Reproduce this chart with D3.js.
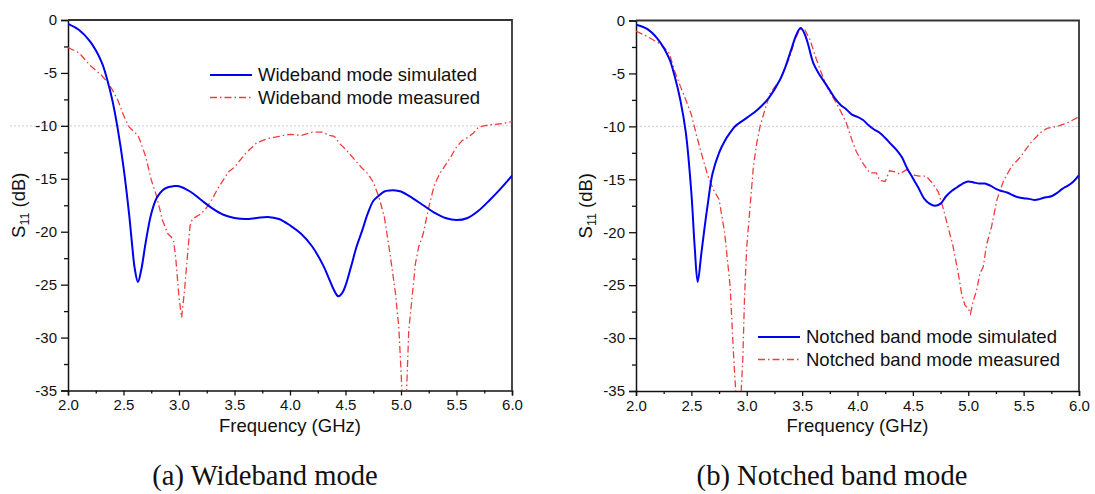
<!DOCTYPE html>
<html>
<head>
<meta charset="utf-8">
<script src="https://cdn.jsdelivr.net/npm/d3@7"></script>
<style>
  html, body { margin: 0; padding: 0; background: #fff; }
  svg { display: block; }
</style>
</head>
<body>
<svg id="chart" width="1095" height="494"></svg>
<script>
// ---------- data ----------
const xTicks = [2.0, 2.5, 3.0, 3.5, 4.0, 4.5, 5.0, 5.5, 6.0];
const yTicks = [0, -5, -10, -15, -20, -25, -30, -35];

// (a) Wideband mode
const fA_sim = [2.0,2.1,2.2,2.3,2.35,2.4,2.45,2.5,2.55,2.58,2.6,2.63,2.66,2.7,2.75,2.8,2.85,2.9,2.95,3.0,3.1,3.2,3.3,3.4,3.5,3.6,3.7,3.8,3.9,4.0,4.1,4.2,4.3,4.35,4.4,4.435,4.47,4.5,4.55,4.6,4.65,4.7,4.75,4.8,4.85,4.9,4.95,5.0,5.1,5.2,5.3,5.4,5.5,5.6,5.7,5.8,5.9,6.0];
const sA_sim = [-0.38,-0.95,-2.05,-3.9,-5.5,-7.6,-10.4,-13.9,-18.3,-21.5,-23.4,-24.75,-23.6,-21.0,-18.3,-16.8,-16.1,-15.8,-15.7,-15.7,-16.2,-17.0,-17.8,-18.4,-18.7,-18.8,-18.7,-18.6,-18.8,-19.4,-20.2,-21.4,-23.2,-24.4,-25.6,-26.1,-25.8,-25.1,-23.3,-21.4,-19.9,-18.3,-17.1,-16.6,-16.2,-16.1,-16.1,-16.2,-16.8,-17.5,-18.2,-18.7,-18.9,-18.7,-18.0,-17.0,-15.9,-14.7];

const fA_meas = [2.0,2.1,2.2,2.3,2.35,2.4,2.45,2.5,2.55,2.6,2.63,2.65,2.7,2.75,2.8,2.85,2.9,2.93,2.95,2.97,3.0,3.024,3.05,3.08,3.1,3.12,3.2,3.25,3.3,3.35,3.4,3.45,3.5,3.6,3.7,3.8,3.9,4.0,4.1,4.2,4.3,4.35,4.4,4.45,4.5,4.55,4.6,4.65,4.7,4.75,4.8,4.85,4.9,4.95,4.98,5.0,5.03,5.05,5.07,5.1,5.13,5.16,5.2,5.25,5.3,5.35,5.4,5.45,5.5,5.55,5.6,5.65,5.7,5.75,5.8,5.9,6.0];
const sA_meas = [-2.6,-3.1,-4.3,-5.2,-5.8,-6.6,-7.6,-9.0,-10.1,-10.6,-10.9,-11.4,-12.9,-15.1,-16.7,-18.9,-20.2,-20.5,-20.8,-22.4,-26.2,-28.1,-25.5,-21.8,-19.4,-18.8,-18.3,-17.7,-16.9,-15.9,-15.1,-14.3,-13.9,-12.6,-11.6,-11.2,-11.0,-10.8,-10.9,-10.6,-10.6,-10.9,-11.0,-11.7,-12.2,-12.8,-13.4,-14.0,-14.5,-15.3,-16.7,-18.6,-22.0,-25.8,-29.0,-33.1,-40.0,-35.1,-29.3,-26.2,-23.0,-21.4,-20.2,-17.7,-15.6,-14.5,-13.7,-12.9,-12.0,-11.4,-11.1,-10.7,-10.1,-10.0,-9.9,-9.8,-9.6];

// (b) Notched band mode
const fB_sim = [2.0,2.1,2.2,2.3,2.35,2.4,2.45,2.5,2.53,2.557,2.59,2.62,2.65,2.69,2.75,2.8,2.85,2.9,3.0,3.1,3.2,3.3,3.35,3.4,3.45,3.487,3.52,3.55,3.6,3.65,3.7,3.75,3.8,3.85,3.9,3.95,4.0,4.05,4.1,4.15,4.2,4.25,4.3,4.35,4.4,4.45,4.5,4.55,4.6,4.65,4.7,4.75,4.8,4.85,4.9,4.95,5.0,5.05,5.1,5.15,5.2,5.25,5.3,5.35,5.4,5.45,5.5,5.55,5.6,5.65,5.7,5.75,5.8,5.85,5.9,5.95,6.0];
const sB_sim = [-0.4,-0.8,-1.8,-3.6,-5.3,-7.5,-10.6,-16.3,-21.4,-24.7,-22.0,-19.5,-17.2,-14.5,-12.5,-11.4,-10.6,-9.95,-9.2,-8.4,-7.3,-5.6,-4.35,-2.8,-1.3,-0.72,-1.2,-2.1,-4.0,-5.0,-5.8,-6.6,-7.4,-8.0,-8.4,-8.9,-9.1,-9.4,-9.9,-10.3,-10.6,-11.1,-11.65,-12.2,-12.9,-14.0,-14.9,-15.8,-16.8,-17.3,-17.5,-17.3,-16.6,-16.1,-15.75,-15.4,-15.2,-15.3,-15.4,-15.4,-15.6,-15.9,-16.1,-16.25,-16.5,-16.7,-16.8,-16.85,-16.95,-16.85,-16.7,-16.6,-16.3,-15.9,-15.6,-15.2,-14.6];

const fB_meas = [2.0,2.1,2.2,2.25,2.3,2.35,2.4,2.45,2.5,2.55,2.6,2.65,2.7,2.75,2.8,2.85,2.88,2.9,2.925,2.95,2.965,2.98,3.0,3.03,3.06,3.09,3.12,3.165,3.21,3.3,3.39,3.435,3.48,3.525,3.57,3.63,3.69,3.75,3.81,3.84,3.9,3.95,3.99,4.05,4.11,4.17,4.2,4.25,4.29,4.34,4.38,4.44,4.5,4.56,4.62,4.68,4.73,4.77,4.82,4.86,4.91,4.94,4.97,5.0,5.02,5.045,5.075,5.105,5.135,5.165,5.21,5.26,5.32,5.39,5.47,5.56,5.65,5.71,5.8,5.89,5.98,6.0];
const sB_meas = [-1.0,-1.5,-2.1,-2.5,-3.1,-4.8,-6.2,-7.5,-8.9,-11.0,-12.9,-14.7,-16.0,-16.9,-20.0,-25.1,-31.4,-35.0,-40.0,-35.0,-31.8,-26.1,-21.4,-17.6,-13.8,-11.6,-10.0,-8.4,-6.9,-5.6,-3.4,-1.8,-0.8,-0.9,-1.8,-3.7,-5.4,-6.8,-7.8,-8.4,-9.7,-11.3,-12.4,-13.5,-14.4,-14.4,-15.1,-15.2,-14.2,-14.3,-14.5,-14.1,-14.6,-14.7,-14.7,-15.4,-16.2,-17.6,-19.6,-21.2,-23.9,-25.8,-26.9,-27.2,-27.7,-26.5,-25.5,-23.9,-23.3,-21.2,-19.5,-16.9,-15.1,-13.8,-12.9,-11.6,-10.6,-10.2,-10.0,-9.7,-9.2,-9.1];

const legendA = ["Wideband mode simulated", "Wideband mode measured"];
const legendB = ["Notched band mode simulated", "Notched band mode measured"];
const captions = ["(a) Wideband mode", "(b) Notched band mode"];
const xTitle = "Frequency (GHz)";

// ---------- drawing ----------
const svg = d3.select("#chart");
const BLUE = "#0000f0", RED = "#f03c3c";
const DASH = "7,3,1.5,3";

function panel(cfg, idx) {
  const x = d3.scaleLinear().domain([2, 6]).range([cfg.left, cfg.right]);
  const y = d3.scaleLinear().domain([-35, 0]).range([cfg.bottom, cfg.top]);
  const g = svg.append("g");

  const clipId = "clip" + idx;
  svg.append("defs").append("clipPath").attr("id", clipId)
    .append("rect").attr("x", cfg.left).attr("y", cfg.top)
    .attr("width", cfg.right - cfg.left).attr("height", cfg.bottom - cfg.top);

  // -10 dB reference line
  g.append("line")
    .attr("x1", cfg.refStart).attr("x2", cfg.right)
    .attr("y1", y(-10)).attr("y2", y(-10))
    .attr("stroke", "#cfcfcf").attr("stroke-width", 1).attr("stroke-dasharray", "2,2");

  // minor ticks
  const minorY = d3.range(-35, 0.01, 2.5).filter(v => Math.abs(v % 5) > 0.01);
  const minorX = d3.range(2.25, 6, 0.5);
  g.append("g").attr("transform", `translate(${cfg.left},0)`)
    .call(d3.axisLeft(y).tickValues(minorY).tickSize(4).tickFormat(""))
    .call(s => s.select(".domain").remove())
    .selectAll("line").attr("stroke", "#111").attr("stroke-width", 1.3);
  g.append("g").attr("transform", `translate(0,${cfg.bottom})`)
    .call(d3.axisBottom(x).tickValues(minorX).tickSize(3).tickFormat(""))
    .call(s => s.select(".domain").remove())
    .selectAll("line").attr("stroke", "#111").attr("stroke-width", 1.3);

  // major axes
  const ya = g.append("g").attr("transform", `translate(${cfg.left},0)`)
    .call(d3.axisLeft(y).tickValues(yTicks).tickSize(7).tickPadding(4).tickFormat(d3.format("d")));
  ya.select(".domain").attr("stroke", "#111").attr("stroke-width", 1.5);
  ya.selectAll("line").attr("stroke", "#111").attr("stroke-width", 1.3);
  ya.selectAll("text").attr("font-family", "Liberation Sans, Arial, sans-serif")
    .attr("font-size", 15).attr("fill", "#111").text(d => d === 0 ? "0" : String(d));

  const xa = g.append("g").attr("transform", `translate(0,${cfg.bottom})`)
    .call(d3.axisBottom(x).tickValues(xTicks).tickSize(5).tickPadding(4).tickFormat(d3.format(".1f")));
  xa.select(".domain").attr("stroke", "#111").attr("stroke-width", 1.5);
  xa.selectAll("line").attr("stroke", "#111").attr("stroke-width", 1.3);
  xa.selectAll("text").attr("font-family", "Liberation Sans, Arial, sans-serif")
    .attr("font-size", 15).attr("fill", "#111");

  // frame top / right
  g.append("path")
    .attr("d", `M${cfg.left},${cfg.top}H${cfg.right}V${cfg.bottom}`)
    .attr("fill", "none").attr("stroke", "#333").attr("stroke-width", 1.8);

  // curves
  const lineSim = d3.line().x(d => x(d[0])).y(d => y(d[1])).curve(d3.curveCatmullRom.alpha(0.5));
  const lineMeas = d3.line().x(d => x(d[0])).y(d => y(d[1])).curve(d3.curveLinear);
  const curves = g.append("g").attr("clip-path", `url(#${clipId})`);
  curves.append("path").datum(d3.zip(cfg.fMeas, cfg.sMeas))
    .attr("d", lineMeas).attr("fill", "none").attr("stroke", RED)
    .attr("stroke-width", 1.3).attr("stroke-dasharray", DASH);
  curves.append("path").datum(d3.zip(cfg.fSim, cfg.sSim))
    .attr("d", lineSim).attr("fill", "none").attr("stroke", BLUE)
    .attr("stroke-width", 2);

  // legend
  const lg = g.append("g");
  [0, 1].forEach(i => {
    const yy = cfg.legY + i * 22.5;
    lg.append("line").attr("x1", cfg.legX).attr("x2", cfg.legX + 42)
      .attr("y1", yy).attr("y2", yy)
      .attr("stroke", i === 0 ? BLUE : RED)
      .attr("stroke-width", i === 0 ? 2 : 1.3)
      .attr("stroke-dasharray", i === 0 ? null : DASH);
    lg.append("text").attr("x", cfg.legX + 48).attr("y", yy + 6)
      .attr("font-family", "Liberation Sans, Arial, sans-serif")
      .attr("font-size", 18.5).attr("fill", "#111").text(cfg.legend[i]);
  });

  // axis titles
  g.append("text").attr("x", (cfg.left + cfg.right) / 2).attr("y", 432)
    .attr("text-anchor", "middle")
    .attr("font-family", "Liberation Sans, Arial, sans-serif")
    .attr("font-size", 18.5).attr("fill", "#111").text(xTitle);

  const yt = g.append("text")
    .attr("transform", `translate(${cfg.yTitleX},${(cfg.top + cfg.bottom) / 2}) rotate(-90)`)
    .attr("text-anchor", "middle")
    .attr("font-family", "Liberation Sans, Arial, sans-serif")
    .attr("font-size", 18.5).attr("fill", "#111");
  yt.append("tspan").text("S");
  yt.append("tspan").attr("font-size", 12.5).attr("dy", 4).text("11");
  yt.append("tspan").attr("dy", -4).text(" (dB)");

  // caption
  g.append("text").attr("x", cfg.capX).attr("y", 485)
    .attr("text-anchor", "middle")
    .attr("font-family", "Liberation Serif, Times New Roman, serif")
    .attr("font-size", 28.6).attr("fill", "#111").text(captions[idx]);
}

panel({
  left: 68, right: 512, top: 20, bottom: 390.5, refStart: 10,
  fSim: fA_sim, sSim: sA_sim, fMeas: fA_meas, sMeas: sA_meas,
  legend: legendA, legX: 210, legY: 75, yTitleX: 25, capX: 265
}, 0);

panel({
  left: 636, right: 1079, top: 20.5, bottom: 391, refStart: 636,
  fSim: fB_sim, sSim: sB_sim, fMeas: fB_meas, sMeas: sB_meas,
  legend: legendB, legX: 758, legY: 337, yTitleX: 592, capX: 832
}, 1);
</script>
</body>
</html>
